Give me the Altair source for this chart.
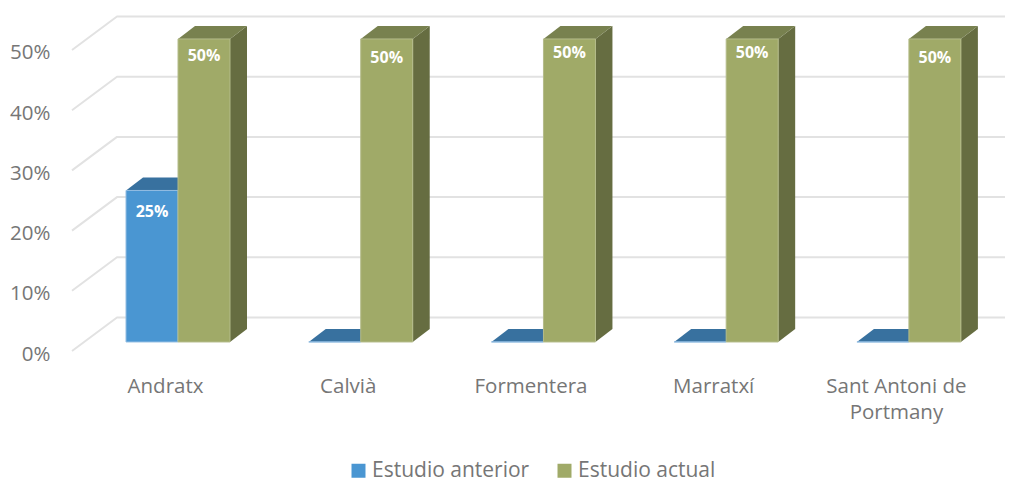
import altair as alt
import pandas as pd

# ---- values ----
categories = ["Andratx", "Calvià", "Formentera", "Marratxí", "Sant Antoni de\nPortmany"]
series_names = ["Estudio anterior", "Estudio actual"]
anterior = [25, 0, 0, 0, 0]
actual = [50, 50, 50, 50, 50]
tick_values = [0, 10, 20, 30, 40, 50]

# ---- layout / style ----
FONT = "Open Sans"
TEXT = "#767676"
GRID = "#e2e2e2"
FRONT = ["#4a96d2", "#a0aa68"]
TOP = ["#38719f", "#78814f"]
SIDE = ["#335f87", "#666d41"]
EDGE = ["#92bde2", "#b4bc8a"]
PX_X = 182.75            # px per category
PX_Y = 6.02              # px per percent
X_MIN, X_MAX = -0.509, 4.597
Y_MAX = 56.64
BAR_LEFT = [-39 / PX_X, 13 / PX_X]
BAR_W = 52 / PX_X
DEPTH_X = 17 / PX_X
DEPTH_Y = 13 / PX_Y
BASE = 1.5
STRETCH = 1.0066
WALL_X = 45 / PX_X
WALL_Y = 33.5 / PX_Y
LABEL_DROP = [[21.5, None, None, None, None], [17, 19, 14, 14, 19]]  # px below bar top

xs = alt.Scale(domain=[X_MIN, X_MAX], nice=False, zero=False)
ys = alt.Scale(domain=[0, Y_MAX], nice=False, zero=False)
names_js = "[" + ",".join('"' + c.replace("\n", "|") + '"' for c in categories) + "]"
x_axis = alt.Axis(
    values=list(range(len(categories))), domain=False, ticks=False, grid=False,
    labelExpr=f"split({names_js}[datum.value], '|')",
    labelFont=FONT, labelFontSize=20.5, labelColor=TEXT, labelPadding=35,
    labelLineHeight=26, labelFlush=False, labelOverlap=False, labelBaseline="middle")
y_axis = alt.Axis(
    values=tick_values, domain=False, ticks=False, grid=False,
    labelExpr="datum.value + '%'", labelOffset=3,
    labelFont=FONT, labelFontSize=20.5, labelColor=TEXT, labelPadding=22)
X = alt.X("x:Q", scale=xs, axis=x_axis, title=None)
Y = alt.Y("y:Q", scale=ys, axis=y_axis, title=None)

# gridlines: front of left wall -> back wall -> right end
grid_rows = []
for t in tick_values:
    grid_rows += [
        {"t": t, "k": 0, "x": X_MIN, "y": t},
        {"t": t, "k": 1, "x": X_MIN + WALL_X, "y": t + WALL_Y},
        {"t": t, "k": 2, "x": X_MAX, "y": t + WALL_Y},
    ]
grid = alt.Chart(pd.DataFrame(grid_rows)).mark_line(color=GRID, strokeWidth=2, strokeJoin="round").encode(
    x=X, y=Y, detail="t:N", order="k:Q")

layers = [grid]
label_rows = []
front_rows = []
for s, (name, vals) in enumerate(zip(series_names, [anterior, actual])):
    side_rows, top_rows = [], []
    for i, v in enumerate(vals):
        left = i + BAR_LEFT[s]
        right = left + BAR_W
        lo = BASE
        hi = BASE + v * STRETCH
        side_rows += [
            {"b": i, "x": right, "y": lo, "y2": hi},
            {"b": i, "x": right + DEPTH_X, "y": lo + DEPTH_Y, "y2": hi + DEPTH_Y},
        ]
        top_rows += [
            {"b": i, "x": left, "y": hi, "y2": hi},
            {"b": i, "x": left + DEPTH_X, "y": hi, "y2": hi + DEPTH_Y},
            {"b": i, "x": right, "y": hi, "y2": hi + DEPTH_Y},
            {"b": i, "x": right + DEPTH_X, "y": hi + DEPTH_Y, "y2": hi + DEPTH_Y},
        ]
        front_rows.append({"series": name, "x": left, "x2": right, "y": lo, "y2": hi})
        if v > 0:
            label_rows.append({
                "x": left + BAR_W / 2,
                "y": hi - LABEL_DROP[s][i] / PX_Y,
                "txt": f"{v}%",
            })
    layers.append(alt.Chart(pd.DataFrame(side_rows)).mark_area(color=SIDE[s], interpolate="linear").encode(
        x=X, y=Y, y2="y2:Q", detail="b:N"))
    layers.append(alt.Chart(pd.DataFrame(top_rows)).mark_area(color=TOP[s], interpolate="linear").encode(
        x=X, y=Y, y2="y2:Q", detail="b:N"))

fronts = alt.Chart(pd.DataFrame(front_rows)).mark_rect(strokeWidth=1).encode(
    x=X, x2="x2:Q", y=Y, y2="y2:Q",
    fill=alt.Fill("series:N", title=None, sort=series_names,
                  scale=alt.Scale(domain=series_names, range=FRONT),
                  legend=alt.Legend(orient="none", legendX=276, legendY=450, direction="horizontal",
                                    columns=2, symbolType="square", symbolSize=196, symbolStrokeWidth=0,
                                    symbolOpacity=1, labelFont=FONT, labelFontSize=21, labelColor=TEXT,
                                    labelOffset=3, columnPadding=24, padding=0, labelLimit=300)),
    stroke=alt.Stroke("series:N", legend=None, scale=alt.Scale(domain=series_names, range=EDGE)),
)
layers.append(fronts)

labels = alt.Chart(pd.DataFrame(label_rows)).mark_text(
    font=FONT, fontSize=16, fontWeight="bold", color="white", baseline="middle", align="center"
).encode(x=X, y=Y, text="txt:N")
layers.append(labels)

chart = alt.layer(*layers).resolve_axis(x="shared", y="shared").properties(
    width=933, height=341,
    autosize=alt.AutoSizeParams(type="none"),
    padding={"left": 64, "top": 2, "right": 6, "bottom": 128},
    background="white",
).configure_view(stroke=None)

chart.save("out.html", embed_options={"renderer": "svg", "actions": False})
